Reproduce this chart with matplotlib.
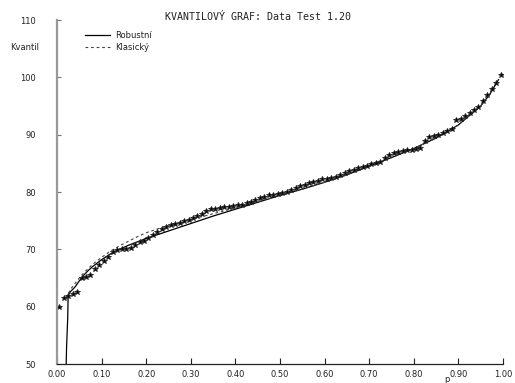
import matplotlib
matplotlib.use("Agg")
import matplotlib.pyplot as plt
import numpy as np

# --- data: sample quantiles (p_i = (i-0.5)/100) ---
kvantily = [
    60.0, 61.5, 61.9, 62.2, 62.6, 65.0, 65.2, 65.5, 66.6, 67.3,
    68.0, 68.6, 69.5, 69.9, 70.0, 70.0, 70.2, 70.8, 71.2, 71.5,
    72.0, 72.5, 73.0, 73.5, 73.9, 74.2, 74.4, 74.6, 74.9, 75.2,
    75.5, 75.8, 76.2, 76.7, 77.0, 77.1, 77.2, 77.3, 77.4, 77.5,
    77.7, 77.8, 78.0, 78.3, 78.6, 78.9, 79.2, 79.4, 79.5, 79.6,
    79.8, 80.0, 80.3, 80.7, 81.0, 81.3, 81.6, 81.8, 82.0, 82.2,
    82.3, 82.5, 82.7, 82.9, 83.3, 83.7, 83.9, 84.1, 84.3, 84.6,
    84.9, 85.1, 85.3, 85.9, 86.5, 86.8, 86.9, 87.1, 87.3, 87.4,
    87.5, 87.7, 88.9, 89.6, 89.8, 90.0, 90.3, 90.6, 91.0, 92.5,
    92.8, 93.3, 93.8, 94.3, 94.8, 95.8, 96.9, 98.0, 99.0, 100.4,
]
p_body = [(i - 0.5) / len(kvantily) for i in range(1, len(kvantily) + 1)]

# robustni kvantilova funkce
p_rob = [0.019, 0.0215, 0.024, 0.025, 0.03, 0.04, 0.05, 0.06, 0.07, 0.08,
         0.10, 0.12, 0.14, 0.16, 0.18, 0.20, 0.25, 0.30, 0.35, 0.40,
         0.45, 0.50, 0.55, 0.60, 0.65, 0.70, 0.75, 0.80, 0.85, 0.90,
         0.95, 0.97, 0.99]
q_rob = [45.0, 53.0, 58.0, 62.0, 62.6, 63.4, 64.5, 65.5, 66.3, 67.0,
         68.2, 69.2, 70.0, 70.7, 71.3, 71.9, 73.2, 74.5, 75.8, 77.0,
         78.2, 79.4, 80.5, 81.7, 83.0, 84.5, 86.0, 87.6, 89.4, 91.7,
         95.0, 97.0, 99.6]

# klasicka kvantilova funkce
p_kla = [0.02, 0.03, 0.04, 0.05, 0.06, 0.08, 0.10, 0.12, 0.14, 0.16,
         0.18, 0.20, 0.25, 0.30, 0.35, 0.40, 0.45, 0.50, 0.55, 0.60,
         0.65, 0.70, 0.75, 0.80, 0.85, 0.90, 0.95, 0.98]
q_kla = [61.5, 63.0, 64.0, 65.0, 65.9, 67.4, 68.6, 69.7, 70.6, 71.4,
         72.2, 72.9, 74.2, 75.2, 76.2, 77.2, 78.3, 79.4, 80.5, 81.7,
         83.0, 84.5, 86.0, 87.6, 89.4, 91.7, 95.0, 98.3]

x_ticks = [0.0, 0.1, 0.2, 0.3, 0.4, 0.5, 0.6, 0.7, 0.8, 0.9, 1.0]
y_ticks = [50, 60, 70, 80, 90, 100, 110]

fig = plt.figure(figsize=(5.15, 3.83), dpi=100)
ax = fig.add_axes([57 / 515, 1 - 364 / 383, 446 / 515, 344 / 383])

ax.plot(p_rob, q_rob, color='black', lw=0.9, label='Robustní')
ax.plot(p_kla, q_kla, color='#444444', lw=0.8, ls=(0, (2.5, 2.5)), label='Klasický')
ax.plot(p_body, kvantily, ls='none', marker='*', ms=4.2, color='black',
        markeredgecolor='#222222', markeredgewidth=0.6)

ax.set_xlim(0, 1)
ax.set_ylim(50, 110)
ax.set_xticks(x_ticks)
ax.set_xticklabels([f"{t:.2f}" for t in x_ticks])
ax.set_yticks(y_ticks)
ax.set_yticklabels([str(t) for t in y_ticks])

for s in ['top', 'right']:
    ax.spines[s].set_visible(False)
ax.spines['left'].set_color('#999999')
ax.spines['left'].set_linewidth(1.6)
ax.spines['bottom'].set_color('#222222')
ax.spines['bottom'].set_linewidth(0.9)

ax.tick_params(axis='x', direction='in', length=4, width=0.8, color='#222222',
               labelsize=6, pad=4, labelcolor='#222222')
ax.tick_params(axis='y', direction='in', length=3, width=0.8, color='#777777',
               labelsize=6, pad=15, labelcolor='#222222')

fig.text(258 / 515, 1 - 17 / 383, 'KVANTILOVÝ GRAF: Data Test 1.20',
         ha='center', va='center', fontsize=7.2, family='DejaVu Sans Mono',
         color='#222222')
fig.text(25 / 515, 1 - 48 / 383, 'Kvantil', ha='center', va='center',
         fontsize=6, color='#222222')
fig.text(447 / 515, 1 - 380 / 383, 'p', ha='center', va='center',
         fontsize=6, color='#222222')

ax.legend(loc='upper left', bbox_to_anchor=(28 / 446, 1 - 11 / 344), frameon=False,
          fontsize=6, handlelength=3.0, handletextpad=0.6, labelspacing=0.4,
          borderaxespad=0, borderpad=0, labelcolor='#222222')

fig.savefig('out.png', dpi=100, facecolor='white')
